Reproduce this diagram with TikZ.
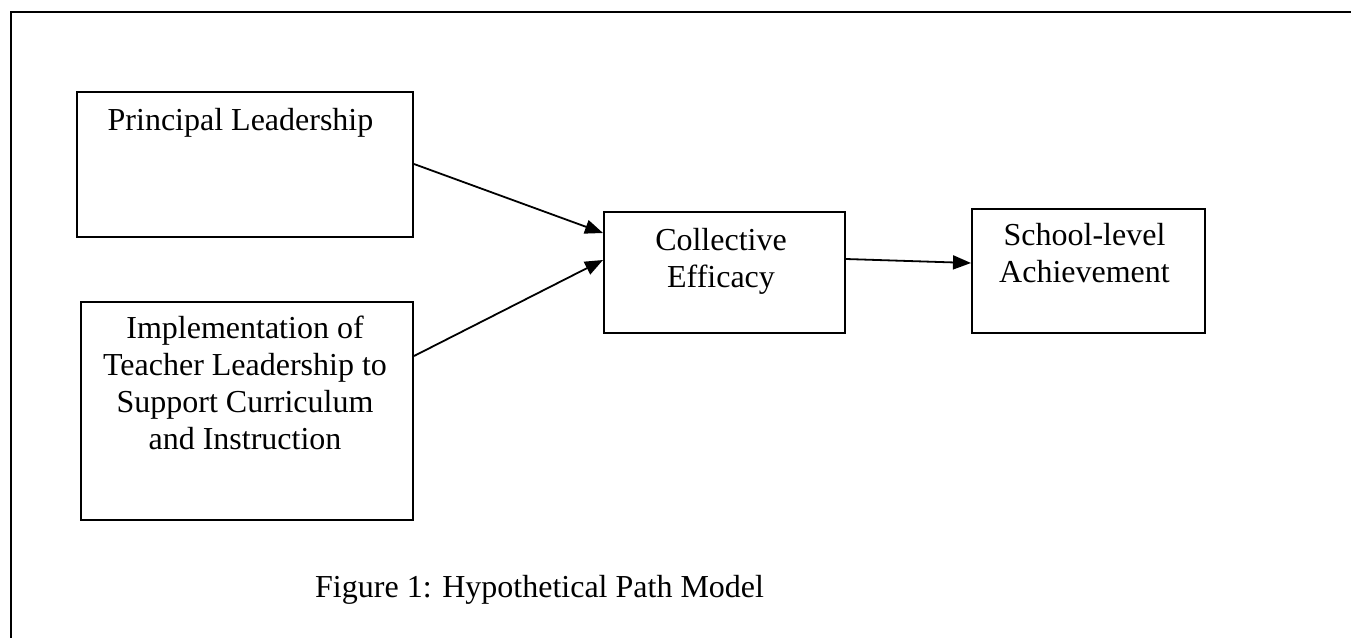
\documentclass[tikz,border=0pt]{standalone}
\usepackage{fontspec}
\setmainfont{Liberation Serif}
\usetikzlibrary{arrows.meta}
\begin{document}
\begin{tikzpicture}[x=1pt,y=-1pt,
  box/.style={draw=black, line width=2pt, inner sep=0pt, anchor=north west},
  txt/.style={inner sep=0pt, anchor=base, align=center, font=\fontsize{32}{37}\selectfont},
  conn/.style={line width=1.8pt, -{Triangle[length=18pt,width=14pt]}}]
\useasboundingbox (0,0) rectangle (1351,638);
% frame
\coordinate (ftr) at (1351,12);
\coordinate (ftl) at (11,12);
\coordinate (fbl) at (11,638);
\draw[line width=2.2pt] (ftr) -- (ftl) -- (fbl);
% boxes
\node[box, minimum width=336pt, minimum height=145pt] (pl) at (76,91) {};
\node[box, minimum width=332pt, minimum height=218pt] (tl) at (80,301) {};
\node[box, minimum width=241pt, minimum height=121pt] (ce) at (603,211) {};
\node[box, minimum width=233pt, minimum height=124pt] (sa) at (971,208) {};
% texts (anchor base = baseline of last line)
\node[txt] (plt) at (240.5,130) {Principal Leadership};
\node[txt] (tlt) at (245,449) {Implementation of\\Teacher Leadership to\\Support Curriculum\\and Instruction};
\node[txt] (cet) at (721,287) {Collective\\Efficacy};
\node[txt] (sat) at (1084.5,282) {School-level\\Achievement};
\node[txt, anchor=base west] (cap) at (315,597) {Figure 1: Hypothetical Path Model};
% connectors
\draw[conn] (pl.east |- 0,164) -- (ce.west |- 0,233);
\draw[conn] (tl.east |- 0,356) -- (ce.west |- 0,260);
\draw[conn] (ce.east |- 0,259) -- (sa.west |- 0,263);
\end{tikzpicture}
\end{document}
